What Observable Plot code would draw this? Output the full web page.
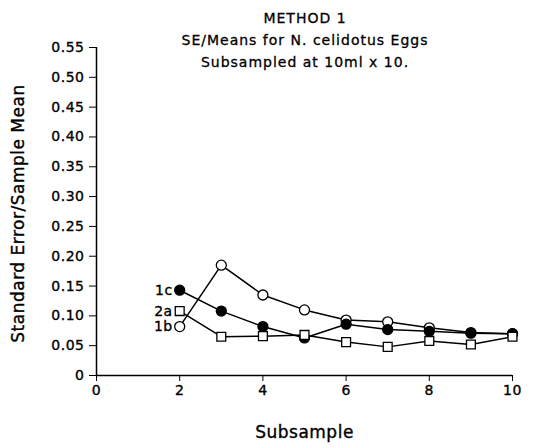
<!DOCTYPE html>
<html><head><meta charset="utf-8">
<script src="https://cdn.jsdelivr.net/npm/d3@7"></script>
<script src="https://cdn.jsdelivr.net/npm/@observablehq/plot@0.6"></script>
<style>
body{margin:0;background:#fff;}
#wrap{position:relative;width:534px;height:448px;font-family:"DejaVu Sans",sans-serif;}
#title{position:absolute;left:96px;width:418px;top:7px;text-align:center;font-size:14px;letter-spacing:1px;line-height:22px;color:#000;-webkit-text-stroke:0.3px #000;}
svg text{stroke:#000;stroke-width:0.35px;}
</style></head><body>
<div id="wrap"><div id="title">METHOD 1<br>SE/Means for N. celidotus Eggs<br>Subsampled at 10ml x 10.</div></div>
<script>
const subsample = [2, 3, 4, 5, 6, 7, 8, 9, 10];
const series1b = [0.082, 0.185, 0.135, 0.110, 0.093, 0.090, 0.080, 0.072, 0.070];
const series1c = [0.143, 0.108, 0.082, 0.063, 0.086, 0.077, 0.074, 0.071, 0.070];
const series2a = [0.108, 0.065, 0.066, 0.068, 0.056, 0.048, 0.058, 0.052, 0.065];
const xTicks = [0, 2, 4, 6, 8, 10];
const yTicks = [0, 0.05, 0.10, 0.15, 0.20, 0.25, 0.30, 0.35, 0.40, 0.45, 0.50, 0.55];
const seriesNames = ["1b", "1c", "2a"];
const seriesValues = [series1b, series1c, series2a];
const seriesSymbol = {"1b": "circle", "1c": "circle", "2a": "square"};
const seriesFill = {"1b": "white", "1c": "black", "2a": "white"};

const data = seriesNames.flatMap((name, i) =>
  subsample.map((x, j) => ({series: name, x, y: seriesValues[i][j]})));
const firsts = data.filter(d => d.x === subsample[0]);

const chart = Plot.plot({
  width: 534, height: 448,
  marginLeft: 96, marginRight: 22, marginTop: 47, marginBottom: 73,
  style: {fontFamily: "DejaVu Sans, sans-serif", fontSize: "14px", letterSpacing: "0.5px", color: "#000", background: "#fff"},
  x: {domain: [0, 10]},
  y: {domain: [0, 0.55]},
  marks: [
    Plot.axisX({ticks: xTicks, tickSize: 6, tickPadding: 4, label: null, tickFormat: d => String(d), fontSize: 14}),
    Plot.axisY({ticks: yTicks, tickSize: 7, tickPadding: 5, label: null, tickFormat: d => d === 0 ? "0" : d3.format(".2f")(d), fontSize: 14}),
    Plot.ruleX([0], {stroke: "black", strokeWidth: 1.5}),
    Plot.ruleY([0], {stroke: "black", strokeWidth: 1.5}),
    Plot.line(data, {x: "x", y: "y", z: "series", stroke: "black", strokeWidth: 1.5}),
    Plot.dot(data, {x: "x", y: "y", r: 5, symbol: d => seriesSymbol[d.series], fill: d => seriesFill[d.series], stroke: "black", strokeWidth: 1.3}),
    Plot.text(firsts, {x: "x", y: "y", text: "series", dx: -7, textAnchor: "end", fontSize: 14}),
    Plot.text(["Standard Error/Sample Mean"], {frameAnchor: "left", rotate: -90, dx: -78, dy: 2, fontSize: 17, textAnchor: "middle", style: "letter-spacing:1.6px"}),
    Plot.text(["Subsample"], {frameAnchor: "bottom", dy: 62, fontSize: 17, textAnchor: "middle", style: "letter-spacing:0.8px"})
  ]
});
document.getElementById("wrap").insertBefore(chart, document.getElementById("title"));
</script>
</body></html>
